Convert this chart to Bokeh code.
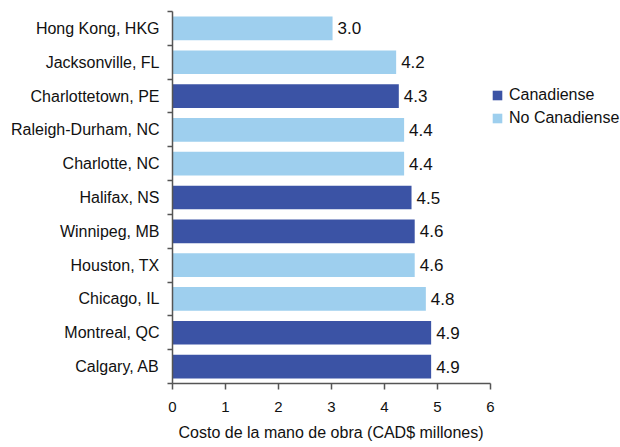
from bokeh.plotting import figure
from bokeh.models import Range1d, FixedTicker, ColumnDataSource, Legend, LegendItem, Title
from bokeh.core.properties import value
from bokeh.embed import file_html
from bokeh.resources import INLINE

cities = ["Hong Kong, HKG", "Jacksonville, FL", "Charlottetown, PE", "Raleigh-Durham, NC",
          "Charlotte, NC", "Halifax, NS", "Winnipeg, MB", "Houston, TX", "Chicago, IL",
          "Montreal, QC", "Calgary, AB"]
costs = [3.02, 4.22, 4.27, 4.37, 4.37, 4.51, 4.57, 4.57, 4.78, 4.88, 4.88]
canadian = [False, False, True, False, False, True, True, False, False, True, True]
x_ticks = [0, 1, 2, 3, 4, 5, 6]
x_title = "Costo de la mano de obra (CAD$ millones)"

DARK = "#3B53A5"
LIGHT = "#9ECFEE"
FONT = "Liberation Sans"

n = len(cities)
pos = [i + 0.5 for i in range(n)]
labels = [f"{v:.1f}" for v in costs]

W, H = 620, 447
FL, FR, FT, FB = 172, 490, 11, 384   # frame pixel bounds for the 0..6 axis
x_end = 6 * (W - FL) / (FR - FL)

def subset(flag):
    idx = [i for i in range(n) if canadian[i] == flag]
    return ColumnDataSource(dict(y=[pos[i] for i in idx], x=[costs[i] for i in idx]))

p = figure(width=W, height=H, output_backend="svg", toolbar_location=None,
           x_range=Range1d(0, x_end), y_range=Range1d(n, 0),
           min_border_left=FL, min_border_right=0, min_border_top=FT, min_border_bottom=H - FB)
p.outline_line_color = None
p.xgrid.visible = False
p.ygrid.visible = False

r_can = p.hbar(y="y", right="x", left=0, height=0.7, source=subset(True),
               fill_color=DARK, line_color=None)
r_non = p.hbar(y="y", right="x", left=0, height=0.7, source=subset(False),
               fill_color=LIGHT, line_color=None)

p.text(x=costs, y=pos, text=labels, x_offset=5, text_baseline="middle", text_align="left",
       text_font=value(FONT), text_font_size="17px", text_color="#111111")

# y axis
ya = p.yaxis[0]
ya.ticker = FixedTicker(ticks=pos, minor_ticks=list(range(n + 1)))
ya.major_label_overrides = {pos[i]: cities[i] for i in range(n)}
ya.major_tick_out = 0
ya.major_tick_in = 0
ya.minor_tick_out = 5
ya.minor_tick_in = 0
ya.major_label_standoff = 8
ya.major_label_text_font = FONT
ya.major_label_text_font_size = "16px"
ya.major_label_text_color = "#111111"
ya.axis_line_color = "#555555"
ya.axis_line_width = 1.5
ya.minor_tick_line_color = "#555555"
ya.minor_tick_line_width = 1.5

# x axis
xa = p.xaxis[0]
xa.ticker = FixedTicker(ticks=x_ticks)
xa.bounds = (0, 6)
xa.major_tick_out = 6
xa.major_tick_in = 0
xa.minor_tick_line_color = None
xa.axis_line_color = "#555555"
xa.axis_line_width = 1.5
xa.major_tick_line_color = "#555555"
xa.major_tick_line_width = 1.5
xa.major_label_text_font = FONT
xa.major_label_text_font_size = "15px"
xa.major_label_text_color = "#111111"
xa.major_label_standoff = 12

p.add_layout(Title(text=x_title, align="left", offset=6, standoff=14, text_line_height=1.0,
                   text_font=FONT, text_font_size="16px", text_font_style="normal",
                   text_color="#111111"), "below")

legend = Legend(items=[LegendItem(label="Canadiense", renderers=[r_can]),
                       LegendItem(label="No Canadiense", renderers=[r_non])],
                location=(491 - FL, FB - 128), padding=0, margin=0, spacing=5,
                glyph_width=12, glyph_height=12, label_height=12, label_standoff=6,
                label_text_font=FONT, label_text_font_size="16px", label_text_color="#111111",
                border_line_alpha=0, background_fill_alpha=0)
p.add_layout(legend, "center")

open("out.html", "w").write(file_html(p, INLINE))
